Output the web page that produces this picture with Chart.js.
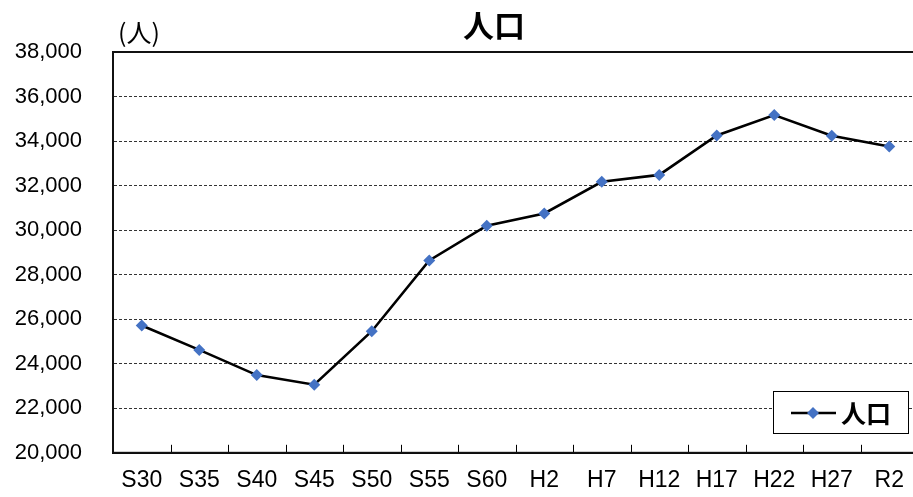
<!DOCTYPE html>
<html lang="ja">
<head>
<meta charset="utf-8">
<title>人口</title>
<script src="https://cdn.jsdelivr.net/npm/chart.js@4/dist/chart.umd.min.js"></script>
<style>
  html, body { margin: 0; padding: 0; background: #fff; overflow: hidden; }
  #wrap { position: relative; width: 924px; height: 497px; }
</style>
</head>
<body>
<div id="wrap"><canvas id="chart"></canvas></div>
<script>
// Census years (Showa / Heisei / Reiwa)
const years = ['S30','S35','S40','S45','S50','S55','S60','H2','H7','H12','H17','H22','H27','R2'];
// Population (persons)
const population = [25720, 24620, 23490, 23060, 25460, 28640, 30200, 30750, 32170, 32480, 34250, 35170, 34240, 33760];
const seriesName = '人口';
const chartTitle = '人口';
const unitLabel = '(人)';
const yMin = 20000, yMax = 38000, yStep = 2000;

const markerColor = '#4472C4';
const yFont = { family: "'Liberation Sans', Arial, sans-serif", size: 22 };
const xFont = { family: "'Liberation Sans', Arial, sans-serif", size: 23 };
const cjkFont = "'Noto Sans CJK JP', sans-serif";

// Frame, inside tick marks, title, unit and in-plot legend
const decorations = {
  id: 'decorations',
  afterDatasetsDraw(chart) {
    const { ctx, chartArea: a } = chart;
    ctx.save();
    // category boundary ticks drawn inward from the bottom axis
    ctx.strokeStyle = '#000';
    ctx.lineWidth = 1;
    const n = years.length;
    const step = (a.right - a.left) / n;
    for (let i = 1; i < n; i++) {
      const px = Math.round(a.left + i * step) + 0.5;
      ctx.beginPath();
      ctx.moveTo(px, a.bottom);
      ctx.lineTo(px, a.bottom - 8);
      ctx.stroke();
    }
    // plot frame
    ctx.lineWidth = 2;
    ctx.strokeStyle = '#111';
    ctx.strokeRect(a.left, a.top, a.right - a.left, a.bottom - a.top);

    // title
    ctx.fillStyle = '#000';
    ctx.textAlign = 'center';
    ctx.textBaseline = 'middle';
    ctx.font = 'bold 31px ' + cjkFont;
    ctx.fillText(chartTitle, 494, 25);
    // unit
    ctx.font = '25px ' + cjkFont;
    ctx.fillText(unitLabel, 139, 32);

    // legend box
    const lx = 773, ly = 391, lw = 135, lh = 42;
    ctx.fillStyle = '#fff';
    ctx.fillRect(lx, ly, lw, lh);
    ctx.lineWidth = 1;
    ctx.strokeStyle = '#000';
    ctx.strokeRect(lx + 0.5, ly + 0.5, lw, lh);
    const cy = ly + 22;
    ctx.lineWidth = 2.5;
    ctx.strokeStyle = '#000';
    ctx.beginPath();
    ctx.moveTo(791, cy);
    ctx.lineTo(836, cy);
    ctx.stroke();
    ctx.fillStyle = markerColor;
    ctx.beginPath();
    ctx.moveTo(813, cy - 6);
    ctx.lineTo(819, cy);
    ctx.lineTo(813, cy + 6);
    ctx.lineTo(807, cy);
    ctx.closePath();
    ctx.fill();
    ctx.fillStyle = '#000';
    ctx.textAlign = 'left';
    ctx.font = 'bold 25px ' + cjkFont;
    ctx.fillText(seriesName, 841, cy);
    ctx.restore();
  }
};

new Chart(document.getElementById('chart'), {
  type: 'line',
  data: {
    labels: years,
    datasets: [{
      label: seriesName,
      data: population,
      borderColor: '#000',
      borderWidth: 2.6,
      pointStyle: 'rectRot',
      pointRadius: 6,
      pointHoverRadius: 6,
      pointBackgroundColor: markerColor,
      pointBorderColor: markerColor,
      pointBorderWidth: 0,
      tension: 0,
      fill: false
    }]
  },
  options: {
    responsive: true,
    maintainAspectRatio: false,
    animation: false,
    layout: { padding: { top: 52, right: 4, left: 0, bottom: 0 } },
    plugins: {
      legend: { display: false },
      title: { display: false },
      tooltip: { enabled: false }
    },
    scales: {
      x: {
        offset: true,
        grid: { display: false, drawTicks: false },
        border: { display: true, color: '#000', width: 2 },
        ticks: {
          font: xFont,
          color: '#000',
          padding: 14,
          maxRotation: 0,
          autoSkip: false
        },
        afterFit(scale) { scale.height = 43; }
      },
      y: {
        min: yMin,
        max: yMax,
        grid: {
          drawTicks: false,
          lineWidth: 1,
          color: (c) => (c.tick && (c.tick.value === yMin || c.tick.value === yMax)) ? 'rgba(0,0,0,0)' : '#333'
        },
        border: { display: true, color: '#000', width: 2, dash: [3, 2] },
        ticks: {
          stepSize: yStep,
          font: yFont,
          color: '#000',
          padding: 31,
          callback: (v) => v.toLocaleString('en-US')
        },
        afterFit(scale) { scale.width = 113; }
      }
    }
  },
  plugins: [decorations]
});
</script>
</body>
</html>
